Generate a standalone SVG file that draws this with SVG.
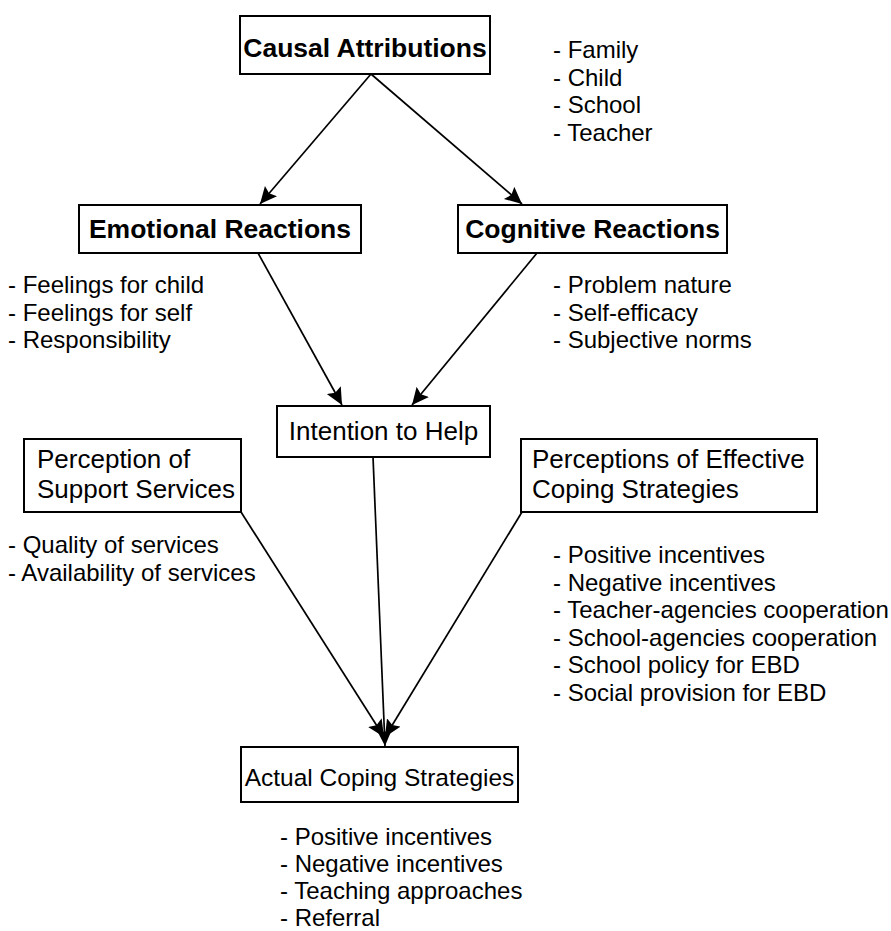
<svg xmlns="http://www.w3.org/2000/svg" width="891" height="931" viewBox="0 0 891 931">
<style>
.box{fill:#fff;stroke:#000;stroke-width:2}
.t{font-family:"Liberation Sans",Arial,sans-serif;fill:#000}
.b{font-size:26.5px;font-weight:bold;text-anchor:middle}
.n{font-size:26px}
.c{text-anchor:middle}
.l{font-size:24px}
.e{fill:none;stroke:#000;stroke-width:1.7}
</style>
<defs>
<marker id="ah" markerUnits="userSpaceOnUse" markerWidth="20" markerHeight="18" refX="17" refY="8" orient="auto">
<path d="M0,0 L17,8 L0,16 L3,8 Z" fill="#000"/>
</marker>
</defs>
<rect width="891" height="931" fill="#fff"/>
<g id="connectors">
<line class="e" x1="371" y1="74" x2="260" y2="204" marker-end="url(#ah)"/>
<line class="e" x1="371" y1="74" x2="522" y2="204" marker-end="url(#ah)"/>
<line class="e" x1="258" y1="253" x2="342" y2="405" marker-end="url(#ah)"/>
<line class="e" x1="537" y1="253" x2="412" y2="405" marker-end="url(#ah)"/>
<line class="e" x1="241" y1="512" x2="384" y2="737" marker-end="url(#ah)"/>
<line class="e" x1="522" y1="512" x2="385" y2="737" marker-end="url(#ah)"/>
<line class="e" x1="373" y1="457" x2="385" y2="746" marker-end="url(#ah)"/>
</g>
<g id="causal">
<rect class="box" x="240" y="16" width="250" height="58"/>
<text class="t b" x="365" y="57">Causal Attributions</text>
</g>
<g id="causal-list" class="t l">
<text x="553" y="58">- Family</text>
<text x="553" y="85.6">- Child</text>
<text x="553" y="113.2">- School</text>
<text x="553" y="140.8">- Teacher</text>
</g>
<g id="emotional">
<rect class="box" x="79" y="205" width="282" height="48"/>
<text class="t b" x="220" y="238">Emotional Reactions</text>
</g>
<g id="cognitive">
<rect class="box" x="458" y="205" width="269" height="48"/>
<text class="t b" x="592.5" y="238">Cognitive Reactions</text>
</g>
<g id="emotional-list" class="t l">
<text x="8" y="293">- Feelings for child</text>
<text x="8" y="320.6">- Feelings for self</text>
<text x="8" y="348.2">- Responsibility</text>
</g>
<g id="cognitive-list" class="t l">
<text x="553" y="293">- Problem nature</text>
<text x="553" y="320.6">- Self-efficacy</text>
<text x="553" y="348.2">- Subjective norms</text>
</g>
<g id="intention">
<rect class="box" x="277" y="406" width="213" height="51"/>
<text class="t n c" x="383.5" y="440">Intention to Help</text>
</g>
<g id="support">
<rect class="box" x="24" y="439" width="217" height="73"/>
<text class="t n" x="37" y="468">Perception of</text>
<text class="t n" x="37" y="498">Support Services</text>
</g>
<g id="support-list" class="t l">
<text x="8" y="553">- Quality of services</text>
<text x="8" y="580.6">- Availability of services</text>
</g>
<g id="effective">
<rect class="box" x="521" y="439" width="296" height="73"/>
<text class="t n" x="532" y="468">Perceptions of Effective</text>
<text class="t n" x="532" y="498">Coping Strategies</text>
</g>
<g id="effective-list" class="t l">
<text x="553" y="563">- Positive incentives</text>
<text x="553" y="590.6">- Negative incentives</text>
<text x="553" y="618.2">- Teacher-agencies cooperation</text>
<text x="553" y="645.8">- School-agencies cooperation</text>
<text x="553" y="673.4">- School policy for EBD</text>
<text x="553" y="701">- Social provision for EBD</text>
</g>
<g id="actual">
<rect class="box" x="241" y="747" width="277" height="55"/>
<text class="t c" style="font-size:24.5px" x="379.5" y="786">Actual Coping Strategies</text>
</g>
<g id="actual-list" class="t l">
<text x="280" y="845">- Positive incentives</text>
<text x="280" y="872">- Negative incentives</text>
<text x="280" y="899">- Teaching approaches</text>
<text x="280" y="926">- Referral</text>
</g>
</svg>
